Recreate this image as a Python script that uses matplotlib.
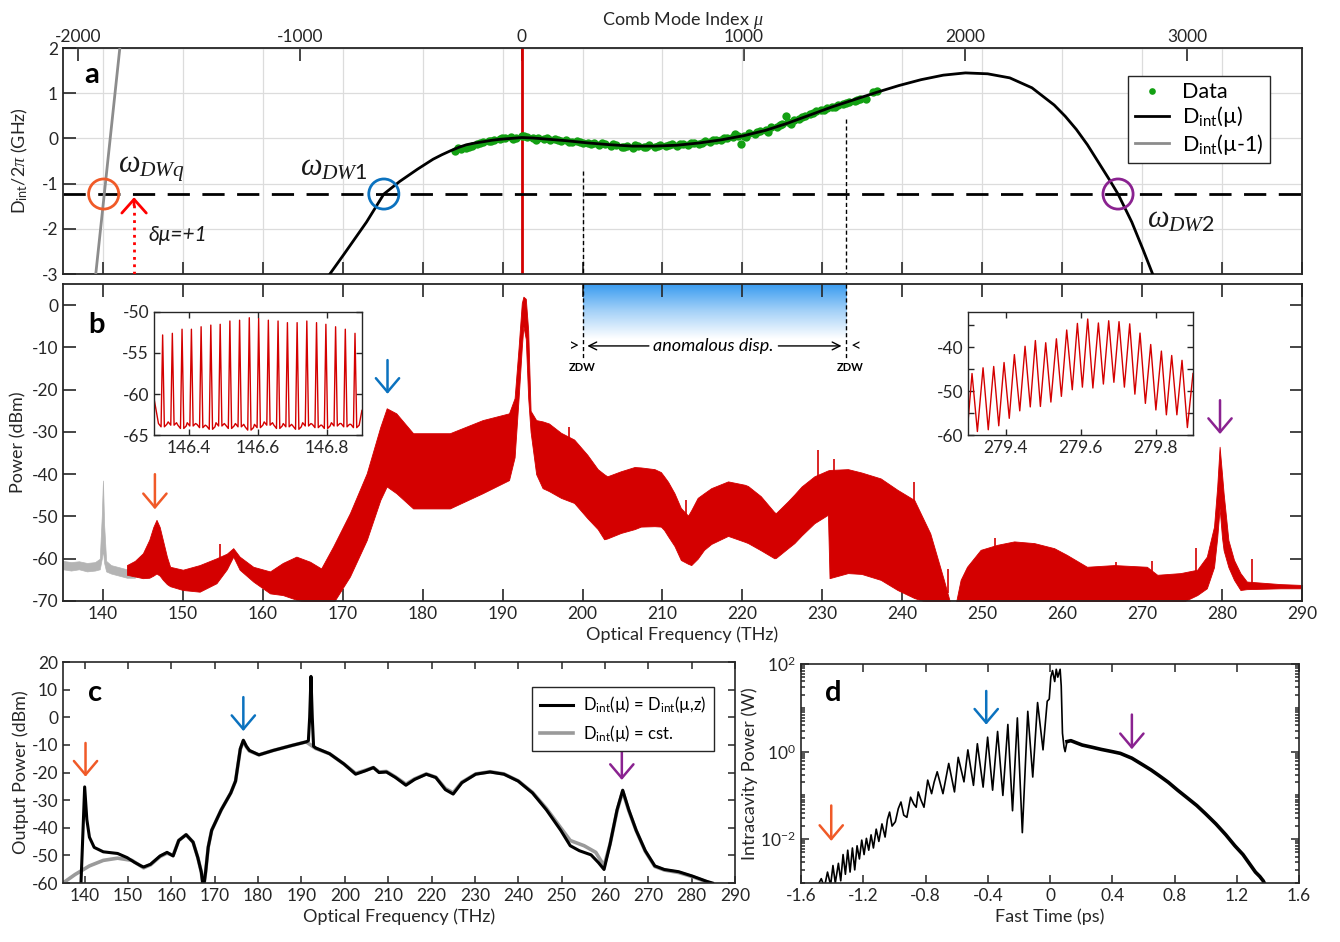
import numpy as np
import matplotlib
matplotlib.use('Agg')
import matplotlib.pyplot as plt
from matplotlib.colors import LinearSegmentedColormap
from matplotlib.ticker import MultipleLocator, LogLocator, NullFormatter

plt.rcParams['font.family'] = ['Lato', 'DejaVu Sans']
plt.rcParams['mathtext.fontset'] = 'custom'
plt.rcParams['mathtext.rm'] = 'Lato'
plt.rcParams['mathtext.it'] = 'Liberation Serif:italic'
plt.rcParams['mathtext.bf'] = 'Lato:bold'
plt.rcParams['axes.unicode_minus'] = False
plt.rcParams['font.size'] = 12
plt.rcParams['axes.edgecolor'] = '#262626'
plt.rcParams['axes.labelcolor'] = '#262626'
plt.rcParams['xtick.color'] = '#262626'
plt.rcParams['ytick.color'] = '#262626'

ORANGE = '#f05a28'
BLUE = '#0b72bf'
PURPLE = '#8a2290'
RED = '#d40000'
GREEN = '#13a013'

TICK_FS = 12.5
LABEL_FS = 13

# conversion between comb mode index and optical frequency (THz)
F0 = 192.4
FSR = 0.02775


def mu2f(mu):
    return F0 + np.asarray(mu) * FSR


def f2mu(f):
    return (np.asarray(f) - F0) / FSR


# ---------------- panel a: integrated dispersion ----------------
data_mu = [-300, -275, -250, -225, -200, -175, -150, -125, -100, -75, -50, -25, 0, 25, 50,
           75, 100, 125, 150, 175, 200, 225, 250, 275, 300, 325, 350, 375, 400, 425, 450,
           475, 500, 525, 550, 575, 600, 625, 650, 675, 700, 725, 750, 775, 800, 825, 850,
           875, 900, 925, 950, 975, 1000, 1025, 1050, 1075, 1100, 1125, 1150, 1175, 1200,
           1225, 1250, 1275, 1300, 1325, 1350, 1375, 1400, 1425, 1450, 1475, 1500, 1525,
           1550, 988, 1190, 1585, 1600, 960,
           -288, -238, -188, -138, -88, -38, 12, 62, 112, 162, 212, 262, 312, 362, 412, 462,
           512, 562, 612, 662, 712, 762, 812, 862, 912, 962, 1012, 1062, 1112, 1162, 1212,
           1262, 1312, 1362, 1412, 1462, 1512]
data_D = [-0.27, -0.23, -0.21, -0.16, -0.12, -0.08, -0.06, -0.03, -0.02, 0.01, 0.03, 0.0,
          0.05, 0.03, 0.0, 0.02, -0.01, -0.04, -0.01, -0.05, -0.03, -0.08, -0.05, -0.10,
          -0.11, -0.09, -0.14, -0.12, -0.16, -0.14, -0.18, -0.17, -0.22, -0.16, -0.19, -0.15,
          -0.19, -0.14, -0.17, -0.13, -0.16, -0.12, -0.14, -0.10, -0.12, -0.06, -0.08, -0.03,
          -0.04, 0.02, 0.03, 0.06, 0.06, 0.11, 0.10, 0.16, 0.18, 0.25, 0.26, 0.32, 0.36, 0.40,
          0.43, 0.50, 0.53, 0.60, 0.62, 0.67, 0.70, 0.74, 0.76, 0.81, 0.83, 0.87, 0.88,
          -0.12, 0.50, 1.02, 1.06, 0.09,
          -0.22, -0.19, -0.09, -0.06, 0.02, -0.01, 0.06, -0.03, 0.01, -0.03, -0.07, -0.07,
          -0.13, -0.11, -0.13, -0.20, -0.15, -0.20, -0.16, -0.15, -0.13, -0.09, -0.11, -0.04,
          0.0, 0.07, 0.04, 0.14, 0.15, 0.30, 0.33, 0.48, 0.57, 0.63, 0.69, 0.79, 0.84]

dint_mu = [-880, -800, -700, -622, -550, -470, -400, -360, -320, -280, -250, -210, -170,
           -135, -100, -50, 0, 50, 100, 200, 300, 400, 500, 600, 700, 800, 900, 1000, 1100,
           1200, 1300, 1400, 1500, 1600, 1700, 1800, 1900, 2000, 2100, 2200, 2300, 2400,
           2450, 2500, 2550, 2600, 2650, 2688, 2750, 2800, 2860]
dint_D = [-3.1, -2.55, -1.85, -1.23, -0.95, -0.68, -0.46, -0.36, -0.27, -0.19, -0.14, -0.1,
          -0.07, -0.04, -0.02, 0.0, 0.02, 0.01, -0.01, -0.05, -0.1, -0.14, -0.17, -0.17,
          -0.15, -0.1, -0.03, 0.06, 0.18, 0.34, 0.52, 0.7, 0.86, 1.02, 1.17, 1.3, 1.4, 1.45,
          1.43, 1.34, 1.12, 0.74, 0.49, 0.2, -0.14, -0.53, -0.92, -1.23, -1.85, -2.45, -3.2]

shift_mu = [-1925, -1810]
shift_D = [-3.2, 2.1]

pump_level = -1.23
dw_mu = [-1885, -622, 2688]
dw_colors = [ORANGE, BLUE, PURPLE]
dw_labels = [r'$\omega_{DWq}$', r'$\omega_{DW1}$', r'$\omega_{DW2}$']
dw_label_mu = [-1820, -998, 2818]
dw_label_D = [-0.68, -0.66, -1.8]

zdw_f = [200.0, 233.0]
zdw_top_a = [-0.71, 0.43]

# ---------------- panel b: measured spectrum (envelope of the comb lines) ----------------
red_f = [143.0, 144.0, 145.0, 145.8, 146.3, 146.7, 147.1, 147.5, 148.0, 148.4, 150.0, 152.1,
         154.2, 155.5, 156.3, 157.1, 158.8, 160.9, 162.5, 164.2, 165.9, 167.3, 168.8, 170.9,
         173.0, 174.7, 175.5, 176.7, 178.8, 183.4, 187.5, 190.8, 191.5, 192.0, 192.4, 192.6,
         192.9, 193.2, 193.5, 194.2, 195.0, 195.8, 197.3, 198.95, 200.6, 201.9, 202.7, 203.1,
         204.8, 206.5, 207.3, 209.0, 209.8, 210.2, 210.7, 211.5, 212.3, 213.2, 213.6, 214.4,
         215.2, 216.1, 218.2, 220.3, 220.7, 222.3, 224.0, 224.2, 225.7, 226.5, 227.4, 229.0,
         230.7, 230.9, 233.2, 234.9, 237.3, 239.4, 241.5, 243.5, 245.2, 246.0, 246.7, 247.3,
         248.1, 249.8, 251.9, 254.0, 256.5, 259.0, 260.6, 263.1, 266.5, 270.6, 271.9, 274.8,
         276.9, 278.1, 279.0, 279.4, 279.7, 280.0, 280.2, 280.8, 281.5, 282.3, 283.1, 287.3,
         290.0]
red_hi = [-61.5, -60.5, -58.7, -55.5, -52.5, -50.8, -52.5, -55.6, -59.5, -61.9, -62.6, -61.5,
          -59.9, -58.8, -57.5, -59.5, -61.9, -63.0, -61.0, -59.5, -60.7, -62.3, -57.1, -49.2,
          -39.8, -28.8, -24.4, -25.6, -30.3, -30.3, -27.2, -25.6, -22.0, -10.0, 0.5, 2.0,
          1.5, -6.0, -25.0, -27.2, -27.5, -28.0, -30.2, -31.8, -35.4, -38.8, -40.0, -40.5,
          -39.3, -38.3, -38.4, -38.8, -39.5, -40.5, -41.8, -44.5, -48.0, -49.8, -48.5, -45.6,
          -44.5, -43.3, -41.7, -42.5, -42.8, -45.2, -49.0, -49.2, -46.4, -44.8, -42.9, -40.5,
          -39.1, -39.0, -38.8, -39.6, -41.0, -43.7, -46.1, -54.0, -65.0, -70.5, -70.5, -65.0,
          -61.9, -57.9, -56.7, -55.9, -56.3, -57.5, -59.1, -61.9, -61.5, -61.9, -63.8, -63.4,
          -62.6, -59.5, -52.4, -42.9, -33.5, -40.0, -44.5, -55.6, -60.3, -63.4, -65.4, -66.0,
          -66.2]
red_lo = [-63.8, -64.2, -64.6, -64.5, -64.0, -63.5, -64.0, -65.0, -66.0, -66.5, -67.4, -67.8,
          -65.8, -62.5, -59.5, -62.6, -65.4, -68.2, -68.6, -69.7, -70.5, -70.5, -70.5, -64.2,
          -55.6, -46.1, -42.9, -44.5, -48.1, -48.1, -44.5, -41.4, -36.0, -22.0, -10.0, -5.0,
          -8.0, -22.0, -30.0, -40.0, -43.3, -44.0, -45.6, -46.8, -50.4, -53.0, -55.4, -55.2,
          -53.9, -53.0, -52.4, -52.3, -52.4, -53.2, -54.7, -57.0, -60.3, -61.2, -61.5, -60.0,
          -57.9, -56.5, -54.6, -56.0, -56.3, -58.0, -59.9, -59.8, -57.5, -56.3, -54.5, -51.6,
          -49.6, -64.6, -63.4, -63.6, -65.0, -67.4, -69.3, -70.5, -70.5, -70.5, -70.5, -70.5,
          -70.5, -70.5, -70.5, -70.5, -70.5, -70.5, -70.5, -70.5, -70.5, -70.5, -70.5, -70.5,
          -68.6, -67.0, -62.0, -55.0, -48.0, -55.0, -58.0, -62.0, -65.0, -67.4, -67.2, -67.0,
          -67.0]

gray_f = [135.0, 136.0, 137.0, 138.0, 139.0, 139.6, 139.85, 140.0, 140.15, 140.4, 141.0,
          142.0, 143.0, 144.0]
gray_hi = [-60.5, -60.8, -60.6, -61.0, -60.8, -60.0, -50.0, -41.5, -52.0, -60.5, -61.5,
           -62.0, -62.5, -62.8]
gray_lo = [-62.5, -62.8, -62.5, -63.0, -62.8, -62.5, -60.0, -58.0, -61.0, -63.0, -63.5,
           -64.0, -64.5, -64.5]

spike_f = [154.6, 198.3, 213.0, 229.4, 231.5, 241.5, 245.7, 251.6, 266.8, 271.2, 276.8, 283.7]
spike_lo = [-62.0, -35.0, -55.0, -44.0, -44.0, -48.0, -68.0, -60.0, -64.0, -64.0, -65.0, -66.0]
spike_hi = [-56.5, -28.8, -46.0, -34.3, -36.5, -41.8, -62.5, -55.0, -60.8, -60.6, -57.5, -60.0]

arrow_b_f = [146.5, 175.6, 279.75]
arrow_b_top = [-40.0, -13.0, -22.5]
arrow_b_tip = [-48.3, -21.0, -30.5]

# insets: single comb lines around the two dispersive waves
ins1_f = [146.325, 146.353, 146.381, 146.408, 146.436, 146.464, 146.491, 146.519, 146.547,
          146.575, 146.602, 146.630, 146.658, 146.685, 146.713, 146.741, 146.769, 146.796,
          146.824, 146.852, 146.880]
ins1_peak = [-52.8, -52.6, -52.1, -52.1, -51.8, -51.6, -51.5, -51.1, -51.0, -50.7, -50.8,
             -51.0, -51.1, -51.3, -51.3, -51.1, -51.3, -51.5, -51.8, -52.1, -52.6]
ins1_base = [-64.0, -63.8, -64.2, -63.9, -64.1, -64.3, -63.9, -64.2, -64.0, -64.4, -64.1,
             -63.8, -64.2, -64.0, -64.3, -63.9, -64.1, -64.2, -63.9, -64.0, -64.1]

ins2_f = [279.300, 279.3107, 279.325, 279.3401, 279.354, 279.3685, 279.382, 279.3961,
          279.410, 279.4236, 279.438, 279.4521, 279.466, 279.4796, 279.493, 279.5072, 279.521,
          279.5357, 279.549, 279.5632, 279.578, 279.5917, 279.605, 279.6192, 279.633,
          279.6477, 279.661, 279.6752, 279.689, 279.7027, 279.717, 279.7312, 279.745,
          279.7587, 279.773, 279.7872, 279.801, 279.8157, 279.829, 279.8432, 279.857,
          279.8707, 279.885, 279.900]
ins2_P = [-57.0, -46.0, -59.2, -44.7, -58.8, -44.4, -57.9, -43.5, -56.2, -41.7, -54.5, -39.8,
          -53.6, -38.5, -53.5, -39.0, -52.5, -38.1, -51.2, -36.1, -49.7, -34.6, -49.1, -33.6,
          -49.3, -34.5, -48.4, -34.0, -48.0, -34.2, -49.1, -34.7, -50.7, -36.8, -52.8, -39.4,
          -54.3, -40.9, -55.4, -41.9, -55.4, -43.0, -58.3, -46.0]

# ---------------- panel c: simulated output spectrum ----------------
c_black_f = [139.1, 139.4, 140.0, 140.5, 141.1, 142.2, 144.3, 147.6, 149.8, 151.5, 153.0,
             153.6, 155.2, 157.4, 159.0, 160.4, 161.7, 163.4, 165.0, 166.1, 166.9, 167.4,
             167.9, 168.5, 169.3, 171.5, 173.7, 174.8, 175.9, 176.6, 177.3, 178.0, 180.2,
             183.5, 187.8, 191.1, 191.6, 191.9, 192.2, 192.5, 192.8, 193.3, 196.5, 199.8,
             202.5, 204.7, 206.6, 207.9, 209.6, 211.7, 214.1, 216.1, 218.8, 221.0, 223.2,
             225.0, 227.0, 230.2, 233.5, 236.7, 240.0, 243.3, 246.5, 249.8, 252.0, 254.1,
             256.8, 258.5, 259.8, 261.2, 262.8, 264.1, 265.5, 267.2, 269.3, 271.5, 273.7,
             277.0, 280.2, 283.5, 284.8]
c_black_P = [-62, -50, -25.2, -37, -43.4, -47.1, -48.7, -49.3, -50.8, -52.5, -53.8, -54.2,
             -53.2, -50.2, -48.9, -50.2, -44.6, -42.5, -45.2, -50.8, -56, -62, -56, -47,
             -40.9, -33.5, -27.4, -23.1, -11.4, -8.3, -10.5, -12, -13.6, -12, -10.2, -8.9,
             -8.5, 0, 14.8, 0, -10.5, -11.1, -13.2, -16.9, -20.6, -19.4, -18.2, -20, -19.8,
             -21.8, -24.6, -22.5, -20.6, -21.8, -26.2, -27.8, -23.7, -20.6, -19.8, -20.6,
             -23.1, -27.4, -33.5, -40.9, -46.5, -48.3, -49.8, -52.6, -55.1, -45.8, -33.5,
             -26.4, -33.5, -40.9, -48.3, -53.8, -55.1, -55.9, -57.5, -59.4, -60.0]
c_gray_f = [135.0, 137.8, 141.1, 144.3, 147.6, 150.9, 153.6, 155.2, 157.4, 159.0, 160.4,
            161.7, 163.4, 165.0, 166.1, 166.9, 167.4, 167.9, 168.5, 169.3, 171.5, 173.7,
            174.8, 175.9, 176.6, 177.3, 178.0, 180.2, 183.5, 187.8, 191.1, 193.3, 196.5,
            199.8, 202.5, 204.7, 206.6, 207.9, 209.6, 211.7, 214.1, 216.1, 218.8, 221.0,
            223.2, 225.0, 227.0, 230.2, 233.5, 236.7, 240.0, 243.3, 246.5, 249.8, 252.0,
            255.2, 257.9, 259.8, 261.2, 262.8, 264.1, 265.5, 267.2, 269.3, 271.5, 273.7,
            277.0, 280.2, 283.5, 285.0]
c_gray_P = [-60, -56.9, -53.8, -51.8, -51.0, -51.8, -54.5, -53.4, -50.4, -49.2, -50.0,
            -44.6, -42.5, -45.2, -50.8, -56, -62, -56, -47, -40.9, -33.5, -27.4, -23.1,
            -11.6, -8.6, -10.7, -12.2, -13.6, -12, -10.2, -8.9, -11.3, -13.2, -16.9, -20.3,
            -19.2, -18.2, -19.8, -19.6, -21.6, -24.2, -22.3, -20.5, -21.7, -25.8, -27.3,
            -23.5, -20.5, -19.7, -20.5, -23.0, -27.2, -33.0, -40.0, -44.6, -46.5, -48.9,
            -53.8, -45.8, -33.8, -26.8, -33.8, -41.0, -48.5, -54.0, -55.3, -56.2, -57.7,
            -59.6, -60.5]
arrow_c_f = [140.2, 176.6, 263.9]
arrow_c_top = [-9.3, 7.3, -10.4]
arrow_c_tip = [-21.5, -5.0, -22.7]

# ---------------- panel d: intracavity field ----------------
d_t = [-1.50, -1.47, -1.45, -1.43, -1.41, -1.395, -1.38, -1.36, -1.345, -1.33, -1.315, -1.30,
       -1.285, -1.27, -1.255, -1.24, -1.225, -1.21, -1.195, -1.18, -1.165, -1.15, -1.135,
       -1.117, -1.10, -1.08, -1.06, -1.045, -1.031, -1.015, -0.994, -0.975, -0.958, -0.94,
       -0.92, -0.896, -0.875, -0.86, -0.847, -0.83, -0.81, -0.786, -0.761, -0.745, -0.725,
       -0.688, -0.651, -0.614, -0.590, -0.553, -0.528, -0.492, -0.467, -0.430, -0.401,
       -0.369, -0.337, -0.303, -0.271, -0.241, -0.210, -0.178, -0.143, -0.111, -0.080,
       -0.045, -0.018, -0.005, 0.005, 0.016, 0.030, 0.040, 0.050, 0.065, 0.072, 0.080,
       0.090, 0.097, 0.109, 0.134, 0.170, 0.207, 0.270, 0.330, 0.400, 0.452, 0.526, 0.600,
       0.650, 0.698, 0.760, 0.820, 0.880, 0.943, 1.000, 1.066, 1.130, 1.188, 1.240, 1.286,
       1.320, 1.348, 1.370, 1.384, 1.400]
d_log10P = [-3.1, -2.9, -3.1, -2.75, -3.05, -2.6, -3.0, -2.55, -2.95, -2.35, -2.8, -2.25,
            -2.75, -2.2, -2.7, -2.15, -2.45, -2.02, -2.35, -1.98, -2.25, -1.9, -2.2, -1.77,
            -2.05, -1.65, -1.95, -1.55, -1.38, -1.7, -1.6, -1.3, -1.15, -1.45, -1.5, -1.04,
            -1.2, -1.27, -0.92, -1.1, -1.27, -0.65, -0.96, -0.7, -0.46, -0.96, -0.27, -0.92,
            -0.13, -0.69, 0.04, -0.77, 0.18, -0.81, 0.33, -0.88, 0.46, -1.0, 0.62, -1.35,
            0.77, -1.85, 0.92, -0.58, 1.12, 0.04, 1.15, 1.2, 1.7, 1.85, 1.6, 1.88, 1.7, 1.88,
            1.5, 0.42, 0.1, 0.0, 0.23, 0.25, 0.2, 0.15, 0.1, 0.05, 0.0, -0.04, -0.15, -0.31,
            -0.42, -0.54, -0.7, -0.88, -1.05, -1.23, -1.42, -1.65, -1.9, -2.15, -2.35, -2.58,
            -2.75, -2.85, -2.95, -3.05, -3.1]
arrow_d_t = [-1.406, -0.41, 0.526]
arrow_d_top = [-1.23, 1.385, 0.846]
arrow_d_tip = [-2.04, 0.615, 0.054]

freq_ticks = np.arange(140, 291, 10)


def down_arrow(ax, x, y0, y1, color):
    ax.annotate('', xy=(x, y1), xytext=(x, y0),
                arrowprops=dict(arrowstyle='->,head_length=0.45,head_width=0.38',
                                color=color, lw=1.8, shrinkA=0, shrinkB=0,
                                mutation_scale=22))


fig = plt.figure(figsize=(13.4, 9.42), dpi=100)
ax_a = fig.add_axes([0.0470, 0.7091, 0.9246, 0.2399])
ax_b = fig.add_axes([0.0470, 0.3620, 0.9246, 0.3365])
ax_c = fig.add_axes([0.0470, 0.0626, 0.5015, 0.2346])
ax_d = fig.add_axes([0.5978, 0.0626, 0.3716, 0.2325])
ins1 = fig.add_axes([0.1149, 0.5382, 0.1552, 0.1306])
ins2 = fig.add_axes([0.7224, 0.5382, 0.1679, 0.1306])

# ---- a ----
ax_a.axvline(mu2f(0), color=RED, lw=2, zorder=1.5)
ax_a.plot(mu2f(data_mu), data_D, 'o', color=GREEN, ms=6, mew=0, zorder=2, label='Data')
ax_a.plot(mu2f(dint_mu), dint_D, color='k', lw=2, zorder=3,
          label=r'D$_{\mathrm{int}}$(µ)')
ax_a.plot(mu2f(shift_mu), shift_D, color='#8c8c8c', lw=2, zorder=3,
          label=r'D$_{\mathrm{int}}$(µ-1)')
ax_a.axhline(pump_level, color='k', lw=2, ls=(0, (8, 4.5)), zorder=2.5)
ax_a.scatter(mu2f(dw_mu), [pump_level] * 3, s=470, facecolors='none',
             edgecolors=dw_colors, linewidths=2, zorder=4)
for lab, m, d in zip(dw_labels, dw_label_mu, dw_label_D):
    ax_a.text(mu2f(m), d, lab, fontsize=22, ha='left', va='center', color='#1a1a1a')
for f, top in zip(zdw_f, zdw_top_a):
    ax_a.plot([f, f], [top, -3], color='k', lw=1, ls=(0, (3, 2)), zorder=2)
# delta mu = +1 shift arrow
ax_a.plot([mu2f(-1748)] * 2, [-3, -1.42], color='red', lw=2, ls=':', zorder=3)
ax_a.annotate('', xy=(mu2f(-1748), -1.3), xytext=(mu2f(-1748), -1.48),
              arrowprops=dict(arrowstyle='->,head_length=0.45,head_width=0.4', color='red',
                              lw=2, shrinkA=0, shrinkB=0, mutation_scale=22))
ax_a.text(mu2f(-1685), -2.14, 'δμ=+1', fontsize=15, style='italic', ha='left',
          va='center', color='#1a1a1a')
ax_a.text(0.017, 0.88, 'a', transform=ax_a.transAxes, fontsize=21, fontweight='bold',
          va='center')

ax_a.set_xlim(135, 290)
ax_a.set_ylim(-3, 2)
ax_a.set_xticks(freq_ticks)
ax_a.set_xticklabels([])
ax_a.set_yticks(np.arange(-3, 3, 1))
ax_a.grid(True, color='#dcdcdc', lw=0.9)
ax_a.set_axisbelow(True)
ax_a.tick_params(direction='in', length=9, width=1.2, labelsize=TICK_FS, top=False,
                 right=False)
ax_a.set_ylabel(r'D$_{\mathrm{int}}$/2$\pi$ (GHz)', fontsize=LABEL_FS, labelpad=8)
for s in ax_a.spines.values():
    s.set_linewidth(1.3)
top = ax_a.secondary_xaxis('top', functions=(f2mu, mu2f))
top.set_xticks([-2000, -1000, 0, 1000, 2000, 3000])
top.tick_params(direction='in', length=9, width=1.2, labelsize=TICK_FS, pad=2)
top.set_xlabel(r'Comb Mode Index $\mu$', fontsize=LABEL_FS, labelpad=3)
leg = ax_a.legend(loc='upper right', bbox_to_anchor=(0.983, 0.925), fontsize=15.5,
                  frameon=True, fancybox=False, edgecolor='#262626', framealpha=1,
                  handlelength=1.6, borderpad=0.3, labelspacing=0.1, handletextpad=0.6,
                  markerscale=0.8)
leg.get_frame().set_linewidth(1.0)

# ---- b ----
cmap = LinearSegmentedColormap.from_list('anom', ['#3a9cf0', '#a6d2f8', '#ffffff'])
ax_b.imshow(np.linspace(0, 1, 200)[:, None], extent=[zdw_f[0], zdw_f[1], -8, 5],
            aspect='auto', cmap=cmap, origin='upper', zorder=0)
ax_b.fill_between(gray_f, gray_lo, gray_hi, color='#b4b4b4', lw=0.5, zorder=1)
ax_b.fill_between(red_f, red_lo, red_hi, color=RED, lw=0.6, zorder=2)
ax_b.vlines(spike_f, spike_lo, spike_hi, color=RED, lw=1.2, zorder=2)
for f in zdw_f:
    ax_b.plot([f, f], [5, -12.5], color='k', lw=1, ls=(0, (3, 2)), zorder=3)
ax_b.annotate('', xy=(200.6, -9.65), xytext=(208.3, -9.65),
              arrowprops=dict(arrowstyle='->', color='k', lw=1, shrinkA=0, shrinkB=0,
                              mutation_scale=14))
ax_b.annotate('', xy=(232.4, -9.65), xytext=(224.5, -9.65),
              arrowprops=dict(arrowstyle='->', color='k', lw=1, shrinkA=0, shrinkB=0,
                              mutation_scale=14))
ax_b.text(216.4, -9.65, 'anomalous disp.', fontsize=13, style='italic', ha='center',
          va='center')
ax_b.text(199.6, -9.65, '>', fontsize=13, ha='right', va='center')
ax_b.text(233.5, -9.65, '<', fontsize=13, ha='left', va='center')
ax_b.text(200.0, -14.8, 'ZDW', fontsize=8, fontweight='bold', ha='center', va='center')
ax_b.text(233.5, -14.8, 'ZDW', fontsize=8, fontweight='bold', ha='center', va='center')
for f, y0, y1, c in zip(arrow_b_f, arrow_b_top, arrow_b_tip, dw_colors):
    down_arrow(ax_b, f, y0, y1, c)
ax_b.text(0.02, 0.87, 'b', transform=ax_b.transAxes, fontsize=21, fontweight='bold',
          va='center')
ax_b.set_xlim(135, 290)
ax_b.set_ylim(-70, 5)
ax_b.set_xticks(freq_ticks)
ax_b.set_yticks(np.arange(-70, 1, 10))
ax_b.tick_params(direction='in', length=9, width=1.2, labelsize=TICK_FS, top=True,
                 right=True)
ax_b.set_xlabel('Optical Frequency (THz)', fontsize=LABEL_FS, labelpad=3)
ax_b.set_ylabel('Power (dBm)', fontsize=LABEL_FS, labelpad=4)
for s in ax_b.spines.values():
    s.set_linewidth(1.3)

# insets
xs, ys = [146.3], [-60.5]
for f, p, b in zip(ins1_f, ins1_peak, ins1_base):
    xs += [f - 0.012, f - 0.0045, f, f + 0.005, f + 0.012]
    ys += [b + 0.4, b, p, b, b + 0.3]
xs.append(146.9)
ys.append(-62.0)
ins1.plot(xs, ys, color=RED, lw=1)
ins1.set_xlim(146.3, 146.9)
ins1.set_ylim(-65, -50)
ins1.set_xticks([146.4, 146.6, 146.8])
ins1.set_yticks([-65, -60, -55, -50])
ins2.plot(ins2_f, ins2_P, color=RED, lw=1)
ins2.set_xlim(279.3, 279.9)
ins2.set_ylim(-60, -32)
ins2.set_xticks([279.4, 279.6, 279.8])
ins2.set_yticks([-60, -50, -40])
ins2.yaxis.set_minor_locator(MultipleLocator(5))
for ax in (ins1, ins2):
    ax.tick_params(which='both', direction='in', length=4, width=1, labelsize=TICK_FS,
                   top=True, right=True)
    for s in ax.spines.values():
        s.set_linewidth(1.0)

# ---- c ----
ax_c.plot(c_gray_f, c_gray_P, color='#9a9a9a', lw=2.6, label=r'D$_{\mathrm{int}}$(µ) = cst.')
ax_c.plot(c_black_f, c_black_P, color='k', lw=2.2,
          label=r'D$_{\mathrm{int}}$(µ) = D$_{\mathrm{int}}$(µ,z)')
for f, y0, y1, c in zip(arrow_c_f, arrow_c_top, arrow_c_tip, dw_colors):
    down_arrow(ax_c, f, y0, y1, c)
ax_c.text(0.037, 0.86, 'c', transform=ax_c.transAxes, fontsize=21, fontweight='bold',
          va='center')
ax_c.set_xlim(135, 290)
ax_c.set_ylim(-60, 20)
ax_c.set_xticks(freq_ticks)
ax_c.set_yticks(np.arange(-60, 21, 10))
ax_c.tick_params(direction='in', length=5, width=1.1, labelsize=TICK_FS, top=True,
                 right=True)
ax_c.set_xlabel('Optical Frequency (THz)', fontsize=LABEL_FS, labelpad=3)
ax_c.set_ylabel('Output Power (dBm)', fontsize=LABEL_FS, labelpad=2)
handles, labels = ax_c.get_legend_handles_labels()
legc = ax_c.legend(handles[::-1], labels[::-1], loc='upper right',
                   bbox_to_anchor=(0.981, 0.925), fontsize=12, frameon=True,
                   fancybox=False, edgecolor='#262626', framealpha=1, handlelength=2.0,
                   borderpad=0.45, labelspacing=0.45, handletextpad=0.6)
legc.get_frame().set_linewidth(1.0)
for s in ax_c.spines.values():
    s.set_linewidth(1.2)

# ---- d ----
d_P = 10.0 ** np.array(d_log10P)
d_tt = np.array(d_t)
ax_d.plot(d_tt, d_P, color='k', lw=1.2)
tail = d_tt >= 0.1
ax_d.plot(d_tt[tail], d_P[tail], color='k', lw=2.6)
for t, y0, y1, c in zip(arrow_d_t, arrow_d_top, arrow_d_tip, dw_colors):
    down_arrow(ax_d, t, 10 ** y0, 10 ** y1, c)
ax_d.text(0.048, 0.868, 'd', transform=ax_d.transAxes, fontsize=21, fontweight='bold',
          va='center')
ax_d.set_yscale('log')
ax_d.set_xlim(-1.6, 1.6)
ax_d.set_ylim(1e-3, 1e2)
ax_d.set_xticks([-1.6, -1.2, -0.8, -0.4, 0, 0.4, 0.8, 1.2, 1.6])
ax_d.set_xticklabels(['-1.6', '-1.2', '-0.8', '-0.4', '0', '0.4', '0.8', '1.2', '1.6'])
ax_d.set_yticks([1e-2, 1e0, 1e2])
ax_d.yaxis.set_minor_locator(LogLocator(base=10, subs=np.arange(1, 10), numticks=30))
ax_d.yaxis.set_minor_formatter(NullFormatter())
ax_d.tick_params(which='both', direction='in', width=1.1, labelsize=TICK_FS, top=True,
                 right=True)
ax_d.tick_params(which='major', length=6)
ax_d.tick_params(which='minor', length=3)
ax_d.set_xlabel('Fast Time (ps)', fontsize=LABEL_FS, labelpad=3)
ax_d.set_ylabel('Intracavity Power (W)', fontsize=LABEL_FS, labelpad=2)
for s in ax_d.spines.values():
    s.set_linewidth(1.2)

fig.savefig('out.png', dpi=100)
